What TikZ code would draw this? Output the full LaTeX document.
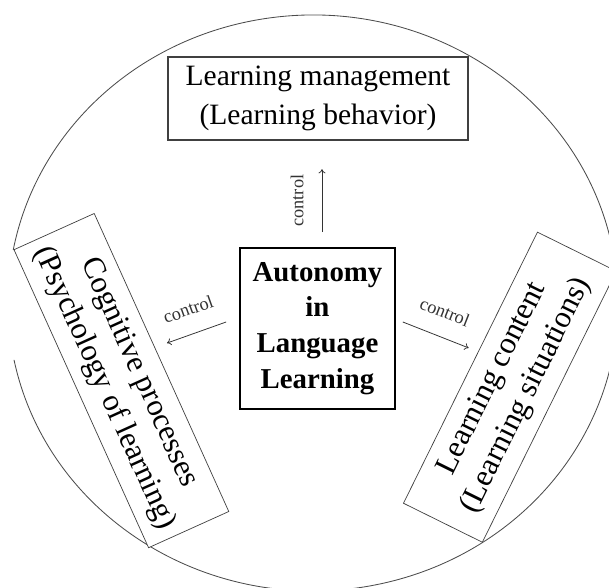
\documentclass[tikz,border=0pt]{standalone}
\usepackage{fontspec}
\setmainfont{Liberation Serif}
\usetikzlibrary{arrows.meta}

\begin{document}
\begin{tikzpicture}[
	topic/.style={draw=black!75, fill=white, align=center, inner sep=0pt, line width=0.8pt, font=\fontsize{21}{28}\selectfont},
	sidetopic/.style={topic, line width=0.5pt, minimum height=2.2cm, font=\fontsize{22}{27}\selectfont},
	ctrl/.style={-{To[length=3pt,width=5pt]}, black!80, line width=0.55pt},
	ctrllabel/.style={midway, sloped, above=0.45cm, inner sep=0pt, font=\fontsize{13}{15}\selectfont}
	]
	
	\def\rx{7.625} % Horizontal radius of the rim
	\def\ry{7.2} % Vertical radius of the rim
	
	% Page frame
	\useasboundingbox (-7.825,-7.1) rectangle (7.4,7.575);
	\clip (-7.825,-7.1) rectangle (7.4,7.575);
	
	% Draw the rim (open on the left)
	\draw[black!70, line width=0.6pt] (191.4:\rx cm and \ry cm) arc[start angle=191.4, end angle=529.4, x radius=\rx cm, y radius=\ry cm];
	
	% Centre box
	\node[topic, draw=black, line width=1.2pt, minimum width=3.875cm, minimum height=4.025cm,
		font=\bfseries\fontsize{20.5}{25.5}\selectfont] (auto) at (0.1125,-0.6375)
		{Autonomy\\in\\Language\\Learning};
	
	% The three things under control
	\node[topic, minimum width=7.5cm, minimum height=2.075cm] (manage) at (0.125,5.1125)
		{\raisebox{-3pt}{Learning management}\\\raisebox{-3pt}{(Learning behavior)}};
	\node[sidetopic, minimum width=8.175cm, rotate=-65.7] (cognit) at (-4.79,-1.94)
		{Cognitive processes\\(Psychology of learning)};
	\node[sidetopic, minimum width=7.56cm, rotate=63.7] (content) at (4.9225,-2.105)
		{Learning content\\(Learning situations)};
	
	% Control arrows
	\draw[ctrl] ([shift={(0.1125,0.375)}]auto.north) -- ++(90:1.575) node[ctrllabel] {control};
	\draw[ctrl] ([shift={(-0.325,0.1625)}]auto.west) -- ++(199.6:1.57) node[ctrllabel] {control};
	\draw[ctrl] ([shift={(0.175,0.1625)}]auto.east) -- ++(-21.5:1.77) node[ctrllabel] {control};
	
\end{tikzpicture}
\end{document}
